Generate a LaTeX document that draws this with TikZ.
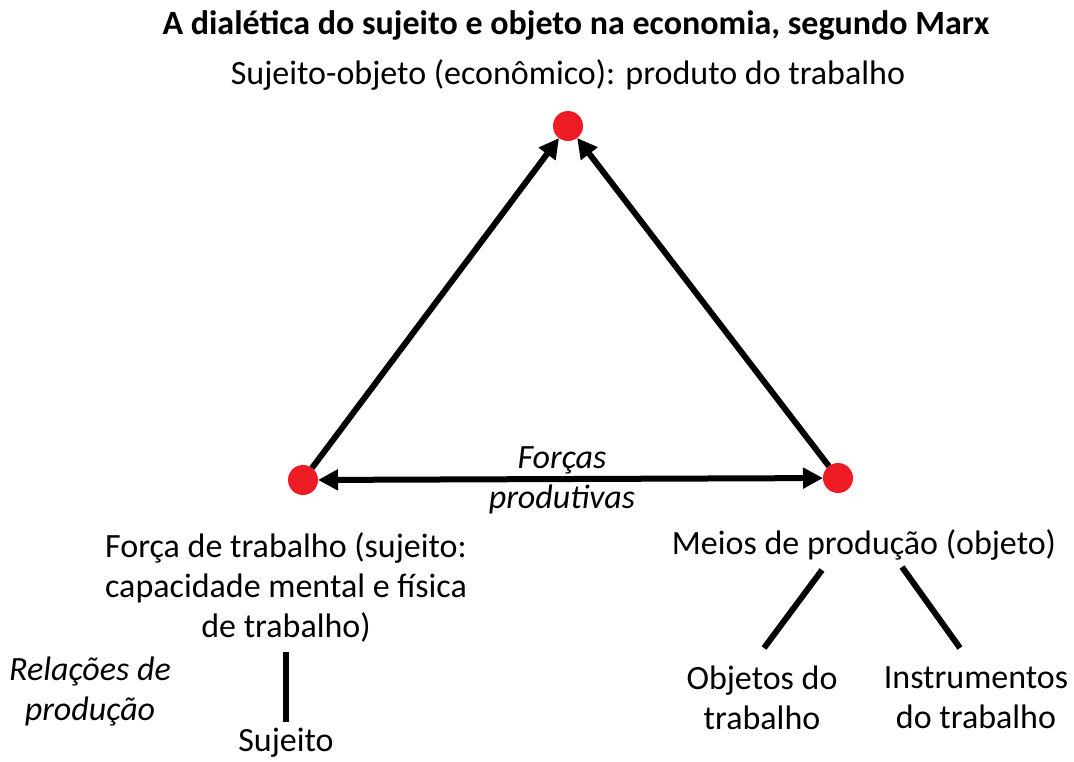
\documentclass[tikz,border=0pt]{standalone}
\usepackage{fontspec}
\setmainfont{Carlito}
\usetikzlibrary{arrows.meta}
\definecolor{dotred}{RGB}{237,28,36}
\tikzset{
  dot/.style={circle,fill=dotred,minimum size=15pt,inner sep=0pt,outer sep=0pt},
  txt/.style={align=center,inner sep=0pt,font=\fontsize{17}{20}\selectfont},
  itxt/.style={txt,font=\fontsize{17}{20}\selectfont\itshape},
  flow/.style={line width=3pt,-{Triangle[length=10pt,width=10pt]}},
  branch/.style={line width=3pt}
}
\begin{document}
\begin{tikzpicture}[x=0.5pt,y=-0.5pt]
\useasboundingbox (0,0) rectangle (1074,761);
% title and vertices
\node (title) at (576,25) [txt,font=\fontsize{17}{20}\selectfont\bfseries] {A dialética do sujeito e objeto na economia, segundo Marx};
\node (produto) at (568,75) [txt] {Sujeito-objeto (econômico): produto do trabalho};
\node (td) at (568,126) [dot] {};
\node (ld) at (303,480) [dot] {};
\node (rd) at (838,478) [dot] {};
\node (forcas) at (562,480) [itxt] {Forças\\produtivas};
\node (forca) at (286,587) [txt] {Força de trabalho (sujeito:\\capacidade mental e física\\de trabalho)};
\node (meios) at (864,545) [txt] {Meios de produção (objeto)};
\node (objetos) at (762,698) [txt] {Objetos do\\trabalho};
\node (instr) at (976,698) [txt] {Instrumentos\\do trabalho};
\node (sujeito) at (286,743) [txt] {Sujeito};
\node (relacoes) at (90,691) [itxt] {Relações de\\produção};
\coordinate (m1) at (822,570);
\coordinate (m2) at (902,567);
\coordinate (o1) at (764,648);
\coordinate (i1) at (960,648);
\coordinate (f1) at (286,652);
\coordinate (s1) at (286,722);
% connectors
\draw 
(ld) edge[flow] (td)
(rd) edge[flow] (td)
(ld) edge[flow,{Triangle[length=10pt,width=10pt]}-{Triangle[length=10pt,width=10pt]}] (rd)
(m1) edge[branch] (o1)
(m2) edge[branch] (i1)
(f1) edge[branch] (s1)
;
\end{tikzpicture}
\end{document}
